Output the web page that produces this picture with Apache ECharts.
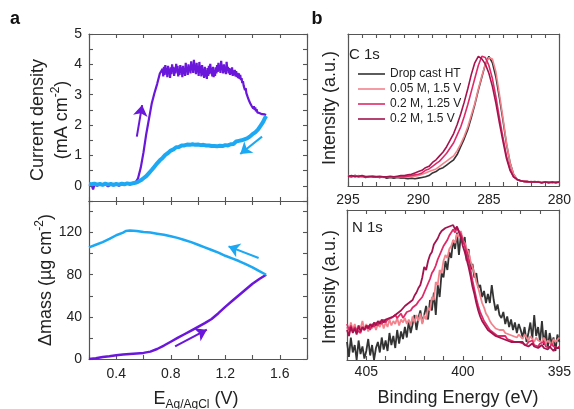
<!DOCTYPE html>
<html><head><meta charset="utf-8">
<script src="https://cdn.jsdelivr.net/npm/echarts@6/dist/echarts.min.js"></script>
<style>html,body{margin:0;padding:0;background:#fff}#c{width:574px;height:409px}</style>
</head><body><div id="c"></div><script>
// ---------- Panel a: cyclic voltammetry (current density) ----------
const purpleJ = [[0.20,0.05],[0.22,0.02],[0.23,-0.12],[0.24,0.04],[0.26,0.00],[0.28,0.06],[0.30,0.02],[0.32,0.05],[0.34,-0.02],[0.36,0.04],[0.38,0.01],[0.40,0.05],[0.42,0.00],[0.44,0.06],[0.46,0.03],[0.48,0.08],[0.50,0.05],[0.52,0.10],[0.54,0.10],[0.56,0.25],[0.58,0.60],[0.60,1.10],[0.62,1.70],[0.64,2.20],[0.66,2.70],[0.68,3.05],[0.70,3.35],[0.72,3.70],
[0.740,3.85],[0.745,3.60],[0.750,3.92],[0.755,3.65],[0.760,3.98],[0.765,3.70],[0.770,3.88],[0.775,3.58],[0.780,3.95],[0.785,3.72],[0.790,3.85],[0.795,3.55],[0.800,3.90],[0.805,3.68],[0.810,4.00],[0.815,3.75],[0.820,3.92],[0.825,3.62],[0.830,3.88],[0.835,3.70],[0.840,4.02],[0.845,3.78],[0.850,3.95],[0.855,3.60],[0.860,3.85],[0.865,3.65],[0.870,3.98],[0.875,3.72],[0.880,3.90],[0.885,3.58],[0.890,3.95],[0.895,3.68],[0.900,3.85],[0.905,3.62],[0.910,4.05],[0.915,3.75],[0.920,3.90],[0.925,3.65],[0.930,4.00],[0.935,3.78],[0.940,3.92],[0.945,3.70],[0.950,4.10],[0.955,3.80],[0.960,3.98],[0.965,3.72],[0.970,4.15],[0.975,3.85],[0.980,3.95],[0.985,3.68],[0.990,4.05],[0.995,3.75],[1.000,3.88],[1.005,3.62],[1.010,4.08],[1.015,3.72],[1.020,3.95],[1.025,3.60],[1.030,3.98],[1.035,3.65],[1.040,3.85],[1.045,3.55],[1.050,3.92],[1.055,3.60],[1.060,3.80],[1.065,3.52],[1.070,3.88],[1.075,3.62],[1.080,3.95],[1.085,3.68],[1.090,4.02],[1.095,3.72],[1.100,3.88],[1.105,3.60],[1.110,3.92],[1.115,3.58],[1.120,3.80],[1.125,3.62],[1.130,3.90],[1.135,3.70],[1.140,3.98],[1.145,3.75],[1.150,4.05],[1.155,3.80],[1.160,3.92],[1.165,3.72],[1.170,4.12],[1.175,3.85],[1.180,3.95],[1.185,3.70],[1.190,4.00],[1.195,3.75],[1.200,3.90],[1.205,3.68],[1.210,4.08],[1.215,3.80],[1.220,3.92],[1.225,3.70],[1.230,3.88],[1.235,3.65],[1.240,3.85],[1.245,3.68],[1.250,3.90],[1.255,3.62],[1.260,3.80],[1.265,3.65],[1.270,3.82],[1.275,3.60],[1.280,3.78],[1.285,3.58],[1.290,3.72],[1.295,3.55],[1.300,3.70],[1.305,3.52],[1.310,3.65],[1.315,3.48],[1.320,3.55],[1.325,3.38],[1.330,3.45],[1.335,3.30],[1.340,3.35],[1.345,3.15],[1.350,3.22],[1.355,3.05],[1.360,3.10],[1.365,2.92],[1.370,2.98],[1.375,2.80],[1.380,2.85],[1.385,2.70],[1.390,2.75],[1.395,2.62],[1.400,2.68],[1.405,2.55],[1.410,2.62],[1.415,2.50],[1.420,2.58],[1.425,2.45],[1.430,2.52],[1.435,2.42],[1.440,2.48],[1.450,2.40],[1.460,2.45],[1.470,2.36],[1.480,2.42],[1.490,2.35],[1.500,2.33]];
const cyanJ = [[1.50,2.30],[1.49,2.22],[1.48,2.12],[1.47,2.05],[1.46,1.98],[1.45,1.92],[1.44,1.85],[1.43,1.82],[1.42,1.76],[1.41,1.72],[1.40,1.70],[1.39,1.64],[1.38,1.62],[1.37,1.58],[1.36,1.56],[1.35,1.52],[1.34,1.53],[1.33,1.48],[1.32,1.50],[1.31,1.44],[1.30,1.48],[1.29,1.42],[1.28,1.46],[1.27,1.40],[1.26,1.38],[1.25,1.42],[1.24,1.37],[1.23,1.40],[1.22,1.33],[1.21,1.38],[1.20,1.34],[1.19,1.37],[1.18,1.31],[1.17,1.36],[1.16,1.32],[1.15,1.35],[1.14,1.30],[1.13,1.34],[1.12,1.31],[1.11,1.36],[1.10,1.31],[1.09,1.35],[1.08,1.33],[1.07,1.38],[1.06,1.33],[1.05,1.37],[1.04,1.35],[1.03,1.40],[1.02,1.34],[1.01,1.38],[1.00,1.36],[0.99,1.40],[0.98,1.35],[0.97,1.41],[0.96,1.37],[0.95,1.40],[0.94,1.35],[0.93,1.39],[0.92,1.36],[0.91,1.38],[0.90,1.33],[0.88,1.33],[0.86,1.28],[0.84,1.27],[0.82,1.20],[0.80,1.16],[0.78,1.08],[0.76,1.02],[0.74,0.92],[0.72,0.84],[0.70,0.74],[0.68,0.63],[0.66,0.52],[0.64,0.42],[0.62,0.32],[0.60,0.25],[0.58,0.18],[0.56,0.13],[0.54,0.10],[0.52,0.08],[0.50,0.06],[0.48,0.08],[0.46,0.05],[0.44,0.07],[0.42,0.04],[0.40,0.06],[0.38,0.03],[0.36,0.06],[0.34,0.04],[0.32,0.07],[0.30,0.03],[0.28,0.06],[0.26,0.04],[0.24,0.07],[0.22,0.05],[0.20,0.06]];
// ---------- Panel a: mass change ----------
const purpleM = [[0.20,0.0],[0.25,0.8],[0.30,1.8],[0.35,2.6],[0.40,3.5],[0.45,4.2],[0.50,4.8],[0.55,5.3],[0.60,5.8],[0.65,7.0],[0.70,9.5],[0.75,12.8],[0.80,16.4],[0.85,20.0],[0.90,23.5],[0.95,27.0],[1.00,30.5],[1.05,34.0],[1.10,38.0],[1.15,43.5],[1.20,49.5],[1.25,55.0],[1.30,60.5],[1.35,66.0],[1.40,71.5],[1.45,76.0],[1.50,80.0]];
const cyanM = [[1.50,80],[1.45,83.5],[1.40,87],[1.35,90],[1.30,93],[1.25,95.5],[1.20,98],[1.15,101],[1.10,103.5],[1.05,106],[1.00,108.5],[0.95,111],[0.90,113],[0.85,115],[0.80,116.5],[0.75,118],[0.70,119],[0.65,120],[0.60,120.5],[0.55,121.5],[0.50,122],[0.47,121.5],[0.45,120],[0.40,117.5],[0.35,114],[0.30,111],[0.25,108.5],[0.20,106]];
// arrows [x1,y1,x2,y2] (tail -> head), data coordinates
const arrowJfwd = [0.551,1.62,0.59,2.66];
const arrowJrev = [1.47,1.62,1.31,1.05];
const arrowMrev = [1.445,95.9,1.224,106.9];
const arrowMfwd = [0.832,12.0,1.065,27.8];

// ---------- Panel b: XPS ----------
const seriesNames = ['Drop cast HT','0.05 M, 1.5 V','0.2 M, 1.25 V','0.2 M, 1.5 V'];
const C_START = 295, C_STEP = 0.25;   // binding-energy sampling of C 1s arrays
const c1sBlack  = [0.075,0.07,0.08,0.07,0.075,0.065,0.07,0.075, 0.07,0.065,0.07,0.06,0.065,0.06,0.065,0.06, 0.06,0.055,0.06,0.055,0.06,0.065,0.07,0.08, 0.10,0.11,0.13,0.14,0.16,0.18,0.20,0.24, 0.30,0.36,0.43,0.52,0.62,0.73,0.83,0.93, 0.99,0.94,0.83,0.67,0.50,0.32,0.18,0.09, 0.05,0.04,0.035,0.03,0.03,0.035,0.03,0.025, 0.03,0.025,0.03,0.025,0.03];
const c1sSalmon = [0.08,0.075,0.07,0.08,0.07,0.075,0.07,0.07, 0.075,0.07,0.065,0.07,0.065,0.07,0.065,0.065, 0.065,0.07,0.07,0.075,0.08,0.09,0.10,0.11, 0.12,0.13,0.15,0.17,0.19,0.21,0.23,0.27, 0.32,0.38,0.45,0.54,0.63,0.74,0.84,0.93, 0.98,0.97,0.87,0.70,0.52,0.33,0.18,0.09, 0.05,0.04,0.035,0.035,0.03,0.03,0.035,0.03, 0.03,0.03,0.025,0.03,0.025];
const c1sPink   = [0.075,0.07,0.08,0.07,0.075,0.07,0.07,0.075, 0.07,0.065,0.07,0.065,0.07,0.065,0.07,0.07, 0.07,0.075,0.08,0.085,0.09,0.10,0.12,0.13, 0.15,0.17,0.19,0.22,0.25,0.29,0.33,0.39, 0.45,0.53,0.62,0.72,0.82,0.92,0.99,0.98, 0.92,0.82,0.68,0.52,0.37,0.23,0.13,0.07, 0.05,0.04,0.035,0.03,0.035,0.03,0.03,0.025, 0.03,0.03,0.025,0.03,0.03];
const c1sMaroon = [0.075,0.08,0.07,0.075,0.08,0.07,0.075,0.07, 0.07,0.075,0.07,0.07,0.075,0.07,0.075,0.08, 0.08,0.085,0.09,0.10,0.11,0.12,0.14,0.15, 0.18,0.20,0.23,0.26,0.30,0.35,0.40,0.47, 0.55,0.64,0.74,0.85,0.94,0.99,0.97,0.93, 0.86,0.76,0.63,0.48,0.34,0.21,0.12,0.07, 0.05,0.04,0.035,0.035,0.03,0.03,0.03,0.025, 0.03,0.025,0.03,0.025,0.03];

const N_START = 406, N_STEP = 0.1;    // binding-energy sampling of N 1s arrays
const n1sBlack  = [0.12,0.02,0.15,0.05,0.10,0.00,0.13,0.04,0.09,0.01, 0.06,0.14,0.03,0.10,0.00,0.08,0.12,0.05,0.15,0.07, 0.13,0.06,0.18,0.10,0.16,0.08,0.20,0.11,0.19,0.14, 0.22,0.15,0.26,0.18,0.24,0.30,0.20,0.28,0.33,0.25, 0.30,0.36,0.27,0.40,0.33,0.45,0.30,0.50,0.42,0.58, 0.55,0.66,0.60,0.72,0.68,0.80,0.74,0.85,0.70,0.84, 0.78,0.82,0.66,0.74,0.60,0.64,0.55,0.58,0.48,0.50, 0.42,0.46,0.38,0.44,0.38,0.50,0.40,0.33,0.37,0.30, 0.28,0.32,0.24,0.29,0.22,0.27,0.20,0.25,0.18,0.24, 0.20,0.15,0.22,0.12,0.18,0.25,0.14,0.30,0.16,0.22, 0.12,0.26,0.10,0.20,0.08,0.18,0.11,0.15,0.06,0.17,0.12];
const n1sSalmon = [0.22,0.18,0.25,0.20,0.24,0.19,0.23,0.21,0.26,0.20, 0.24,0.19,0.23,0.21,0.25,0.20,0.24,0.22,0.26,0.21, 0.25,0.22,0.27,0.23,0.26,0.24,0.28,0.23,0.27,0.25, 0.28,0.24,0.27,0.23,0.29,0.25,0.30,0.26,0.31,0.24, 0.30,0.27,0.35,0.33,0.42,0.40,0.52,0.50,0.60,0.58, 0.66,0.70,0.68,0.74,0.76,0.80,0.78,0.84,0.82,0.86, 0.80,0.78,0.74,0.72,0.66,0.62,0.58,0.52,0.48,0.43, 0.38,0.35,0.31,0.29,0.26,0.24,0.23,0.21,0.22,0.20, 0.19,0.20,0.18,0.19,0.17,0.18,0.16,0.17,0.15,0.17, 0.16,0.14,0.17,0.15,0.13,0.16,0.14,0.12,0.15,0.13, 0.14,0.12,0.15,0.11,0.13,0.12,0.10,0.14,0.12,0.13,0.15];
const n1sPink   = [0.24,0.20,0.23,0.19,0.22,0.20,0.21,0.18,0.22,0.20, 0.21,0.23,0.20,0.24,0.22,0.25,0.23,0.26,0.24,0.27, 0.25,0.27,0.26,0.28,0.27,0.30,0.28,0.29,0.31,0.28, 0.30,0.32,0.31,0.33,0.35,0.34,0.37,0.39,0.40,0.42, 0.45,0.48,0.51,0.54,0.58,0.60,0.63,0.67,0.70,0.73, 0.76,0.78,0.80,0.83,0.84,0.87,0.85,0.88,0.86,0.84, 0.80,0.76,0.72,0.66,0.60,0.53,0.47,0.41,0.36,0.32, 0.29,0.26,0.24,0.22,0.20,0.19,0.18,0.17,0.16,0.17, 0.16,0.15,0.16,0.14,0.15,0.13,0.14,0.12,0.13,0.12, 0.13,0.11,0.12,0.10,0.12,0.11,0.13,0.10,0.11,0.09, 0.11,0.10,0.12,0.09,0.10,0.08,0.11,0.09,0.10,0.08,0.09];
const n1sMaroon = [0.20,0.16,0.22,0.18,0.21,0.17,0.23,0.19,0.22,0.20, 0.23,0.21,0.24,0.22,0.25,0.23,0.26,0.24,0.27,0.25, 0.27,0.26,0.28,0.27,0.29,0.28,0.31,0.30,0.33,0.32, 0.36,0.35,0.38,0.37,0.40,0.43,0.45,0.48,0.50,0.55, 0.62,0.60,0.66,0.70,0.72,0.77,0.78,0.81,0.84,0.86, 0.85,0.88,0.87,0.89,0.88,0.90,0.87,0.89,0.85,0.82, 0.76,0.72,0.67,0.62,0.56,0.49,0.44,0.38,0.33,0.29, 0.26,0.24,0.22,0.20,0.19,0.18,0.17,0.16,0.17,0.15, 0.16,0.14,0.15,0.13,0.14,0.12,0.13,0.12,0.11,0.12, 0.11,0.12,0.10,0.11,0.09,0.10,0.11,0.09,0.10,0.08, 0.09,0.10,0.08,0.09,0.07,0.09,0.08,0.06,0.08,0.07,0.08];

// ---------- styling ----------
const FONT = '"Liberation Sans", Arial, Helvetica, sans-serif';
const AXC = '#555';
const PURPLE = '#6a16db', CYAN = '#1ca8f2';
const XPS_COLORS = ['#333333','#f2838c','#de2a68','#a3144f'];

const grids = [
  {left:89, top:34, width:218, height:167},
  {left:89, top:201, width:218, height:158},
  {left:348, top:34, width:219, height:152},
  {left:347, top:210, width:220, height:150}
];
const xAxes = [], yAxes = [];
function axisBase(gi, o, pos, labels, ticks, fmt, margin){
  return {
    type:'value', gridIndex:gi, min:o.min, max:o.max, interval:o.interval, inverse:!!o.inverse,
    position:pos, scale:true,
    axisLine:{show:true, onZero:false, lineStyle:{color:AXC, width:1.2}},
    axisTick:{show:ticks, inside:true, length:4, lineStyle:{color:AXC, width:1.1}},
    axisLabel:{show:labels, formatter:fmt, fontSize:14, color:'#222', fontFamily:FONT, margin:margin||7},
    splitLine:{show:false}
  };
}
function box(gi, xo, yo){
  xAxes.push(axisBase(gi, xo, 'bottom', xo.labels, xo.ticks, xo.fmt, xo.margin));
  xAxes.push(axisBase(gi, xo, 'top', false, xo.ticks, null));
  yAxes.push(axisBase(gi, yo, 'left', yo.labels, yo.ticks, yo.fmt, yo.margin));
  yAxes.push(axisBase(gi, yo, 'right', false, yo.ticks, null));
}
const fmtA = v => { const k = Math.round(v*10); return (k % 4 === 0) ? (k/10).toFixed(1) : ''; };
const fmt5 = v => (Math.round(v) % 5 === 0) ? String(Math.round(v)) : '';
box(0, {min:0.2,max:1.8,interval:0.2,labels:false,ticks:true},
       {min:-0.5,max:5,interval:0.5,labels:true,ticks:true,fmt:v=>(v>=0 && Math.abs(v-Math.round(v))<1e-6)?String(Math.round(v)):''});
box(1, {min:0.2,max:1.8,interval:0.2,labels:true,ticks:true,fmt:fmtA,margin:8},
       {min:0,max:150,interval:20,labels:true,ticks:true,fmt:v=>(Math.round(v)%40===0 && v<150)?String(Math.round(v)):''});
box(2, {min:280,max:295,interval:1,inverse:true,labels:true,ticks:true,fmt:fmt5,margin:7},
       {min:0,max:1.16,labels:false,ticks:false});
box(3, {min:395,max:406,interval:1,inverse:true,labels:true,ticks:true,fmt:fmt5,margin:5},
       {min:0,max:1,labels:false,ticks:false});

function arrowML(a, color){
  return {silent:true, symbol:['none','arrow'], symbolSize:11, label:{show:false},
    lineStyle:{color:color, width:2, type:'solid'}, itemStyle:{color:color}, emphasis:{disabled:true},
    data:[[{coord:[a[0],a[1]]},{coord:[a[2],a[3]]}]]};
}
function line(name, data, xi, yi, color, w, extra){
  return Object.assign({type:'line', name:name, data:data, xAxisIndex:xi, yAxisIndex:yi,
    symbol:'none', showSymbol:false, lineStyle:{color:color, width:w}, itemStyle:{color:color},
    emphasis:{disabled:true}, z:2}, extra||{});
}
const series = [
  line('fwdJ', purpleJ, 0, 0, PURPLE, 2.2, {markLine:arrowML(arrowJfwd, PURPLE)}),
  line('revJ', cyanJ, 0, 0, CYAN, 4, {markLine:arrowML(arrowJrev, CYAN)}),
  line('fwdM', purpleM, 2, 2, PURPLE, 2.5, {markLine:arrowML(arrowMfwd, PURPLE)}),
  line('revM', cyanM, 2, 2, CYAN, 2.5, {markLine:arrowML(arrowMrev, CYAN)})
];
const c1s = [c1sBlack, c1sSalmon, c1sPink, c1sMaroon];
const n1s = [n1sBlack, n1sSalmon, n1sPink, n1sMaroon];
c1s.forEach((arr, k) => series.push(line(seriesNames[k], arr.map((v,j)=>[C_START - j*C_STEP, v]), 4, 4, XPS_COLORS[k], 1.6)));
n1s.forEach((arr, k) => series.push(line(seriesNames[k], arr.map((v,j)=>[N_START - j*N_STEP, v]), 6, 6, XPS_COLORS[k], 1.8)));

const tx = (x, y, text, rich, rot) => ({type:'text', x:x, y:y, rotation:rot||0, silent:true,
  style:{text:text, rich:rich, align:'center', verticalAlign:'middle', fill:'#222', fontFamily:FONT, fontSize:18}});
const R = {t:{fontSize:18, fontFamily:FONT, fill:'#222', lineHeight:24}, s:{fontSize:12, fontFamily:FONT, fill:'#222', lineHeight:24, verticalAlign:'top'}, b:{fontSize:12, fontFamily:FONT, fill:'#222', lineHeight:24, verticalAlign:'bottom'}};

const option = {
  animation:false,
  backgroundColor:'#fff',
  grid:grids,
  xAxis:xAxes, yAxis:yAxes,
  legend:{data:seriesNames, orient:'vertical', left:353, top:62, icon:'rect', itemWidth:27, itemHeight:1.6, itemGap:1,
    selectedMode:false, textStyle:{fontSize:12, color:'#222', fontFamily:FONT, lineHeight:14}},
  series:series,
  graphic:[
    tx(15, 19, '{a|a}', {a:{fontSize:18, fontWeight:'bold', fontFamily:FONT, fill:'#111'}}),
    tx(317, 19, '{a|b}', {a:{fontSize:18, fontWeight:'bold', fontFamily:FONT, fill:'#111'}}),
    tx(50, 120, '{t|Current density}\n{t|(mA cm}{s|-2}{t|)}', R, Math.PI/2),
    tx(46, 280, '{t|\u0394mass (\u00b5g cm}{s|-2}{t|)}', R, Math.PI/2),
    tx(196, 399, '{t|E}{b|Ag/AgCl}{t| (V)}', R, 0),
    tx(330, 108, '{t|Intensity (a.u.)}', R, Math.PI/2),
    tx(330, 287, '{t|Intensity (a.u.)}', R, Math.PI/2),
    tx(458, 398, '{t|Binding Energy (eV)}', R, 0),
    {type:'text', x:349, y:55, silent:true, style:{text:'C 1s', fontSize:15, fontFamily:FONT, fill:'#222', align:'left', verticalAlign:'middle'}},
    {type:'text', x:352, y:228, silent:true, style:{text:'N 1s', fontSize:15, fontFamily:FONT, fill:'#222', align:'left', verticalAlign:'middle'}}
  ]
};
const chart = echarts.init(document.getElementById('c'), null, {renderer:'canvas'});
chart.setOption(option);
</script></body></html>
